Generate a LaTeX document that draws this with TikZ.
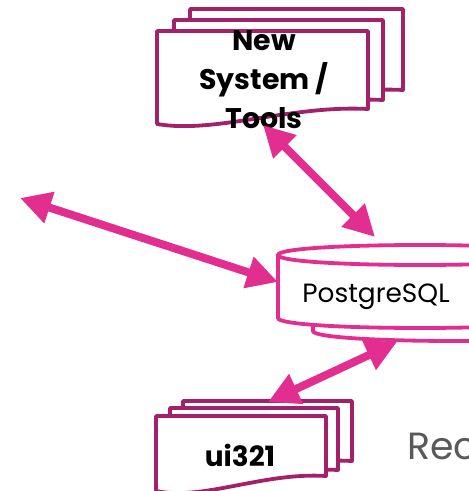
\documentclass[tikz,border=0pt]{standalone}
\usepackage{fontspec}
\setmainfont{Poppins}
\usetikzlibrary{arrows.meta}
\definecolor{docc}{HTML}{A3216B}
\definecolor{pinkc}{HTML}{E22E8F}
\definecolor{grayc}{HTML}{595959}
\tikzset{
  docline/.style={draw=docc, line width=3.8bp, fill=white, line join=round},
  cylline/.style={draw=pinkc, line width=3.8bp, fill=white},
  dblarrow/.style={draw=pinkc, line width=8bp,
    {Triangle[length=31bp,width=31bp]}-{Triangle[length=31bp,width=31bp]}, shorten <=0pt, shorten >=0pt},
}
\newcommand{\mydoc}[4]{% x0, top, x1, yr
  \pgfmathsetmacro{\dw}{#3-#1}
  \pgfmathsetmacro{\ca}{#1+0.275*\dw}
  \pgfmathsetmacro{\cb}{#1+0.63*\dw}
  \pgfmathsetmacro{\yl}{#4+15}
  \pgfmathsetmacro{\yc}{#4+25}
  \pgfmathsetmacro{\yd}{#4-4}
  \path[docline] (#1,#2) -- (#3,#2) -- (#3,#4) .. controls (\cb,\yd) and (\ca,\yc) .. (#1,\yl) -- cycle;
}
\newcommand{\mycyl}[5]{% left x, top cy, bottom cy, right x, ry
  \pgfmathsetmacro{\ku}{#2-1.333*#5}
  \pgfmathsetmacro{\kd}{#3+1.333*#5}
  \pgfmathsetmacro{\kt}{#2+1.333*#5}
  \path[cylline] (#1,#2) -- (#1,#3) .. controls (#1,\kd) and (#4,\kd) .. (#4,#3) -- (#4,#2)
     .. controls (#4,\ku) and (#1,\ku) .. (#1,#2) -- cycle;
  \draw[draw=pinkc, line width=3.8bp] (#1,#2) .. controls (#1,\kt) and (#4,\kt) .. (#4,#2);
}
\begin{document}
\begin{tikzpicture}[x=1bp,y=-1bp]
\useasboundingbox (0,0) rectangle (469,491);
% New System / Tools stack
\mydoc{190}{9}{403}{90}
\mydoc{174}{20}{383}{100}
\mydoc{157}{31}{368}{109}
\node[font=\bfseries\fontsize{28.5}{39}\selectfont, align=center, inner sep=0pt] (newsys) at (264,80) {New\\System /\\Tools};
% ui321 stack
\mydoc{183}{401}{352}{461}
\mydoc{170}{408}{338}{470}
\mydoc{156}{416}{326}{476}
\node[font=\bfseries\fontsize{28}{34}\selectfont, anchor=base, inner sep=0pt] (ui) at (240,466) {ui321};
% PostgreSQL cylinders
\mycyl{313}{268}{331}{597}{10}
\mycyl{278}{255}{318}{562}{10}
\node[font=\fontsize{26.5}{30}\selectfont, anchor=base, inner sep=0pt] (pg) at (376,302) {PostgreSQL};
% Rec text (cut at the right edge, as in the reference)
\node[font=\fontsize{38}{44}\selectfont, text=grayc, anchor=base west, inner sep=0pt] (rec) at (407,459) {Rec};
% arrow endpoints
\coordinate (a1s) at (263,125);
\coordinate (a1e) at (375,237);
\coordinate (a2s) at (20,198);
\coordinate (a2e) at (278,282);
\coordinate (a3s) at (268,402);
\coordinate (a3e) at (397,342);
\draw[dblarrow] (a1s) -- (a1e);
\draw[dblarrow] (a2s) -- (a2e);
\draw[dblarrow] (a3s) -- (a3e);
\end{tikzpicture}
\end{document}
